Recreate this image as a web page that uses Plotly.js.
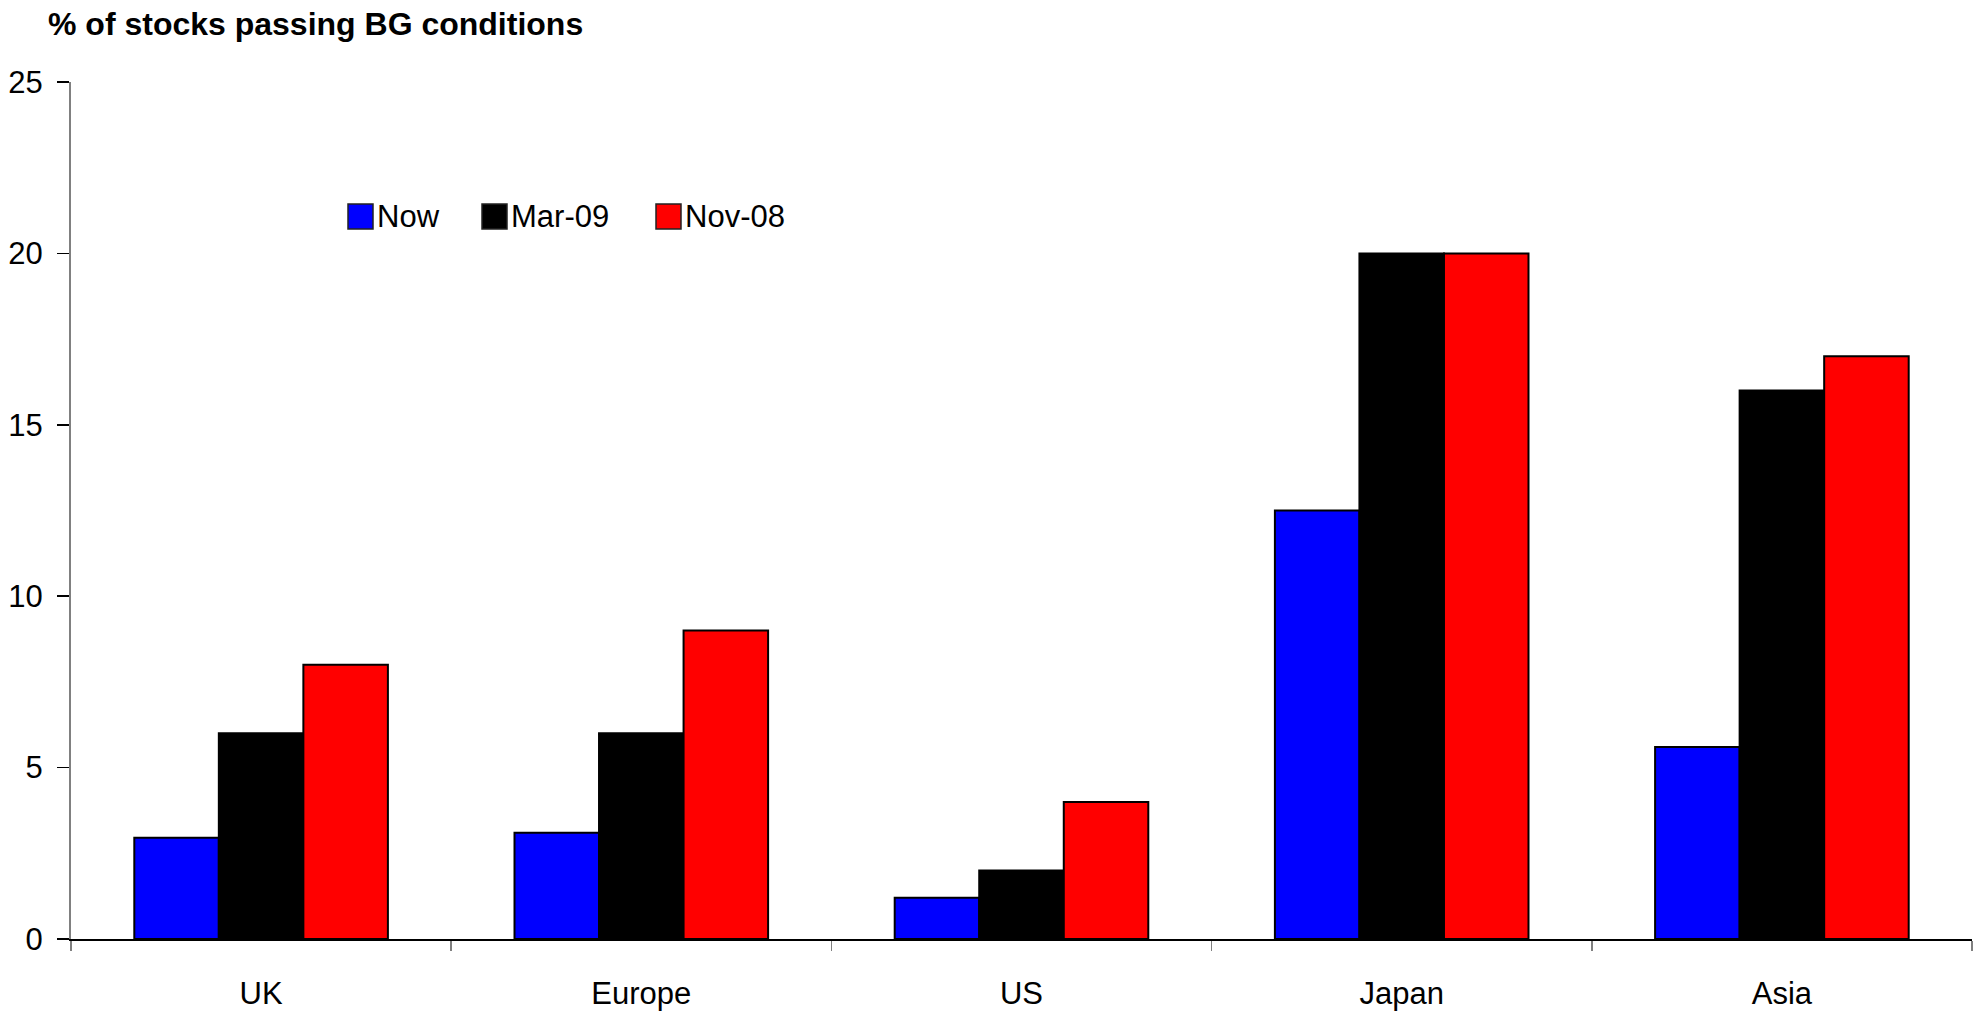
<!DOCTYPE html>
<html>
<head>
<meta charset="utf-8">
<script src="https://cdn.plot.ly/plotly-3.0.1.min.js"></script>
<style>
  html, body { margin: 0; padding: 0; background: #fff; }
  #chart { width: 1980px; height: 1011px; }
</style>
</head>
<body>
<div id="chart"></div>
<script>
// Share of stocks passing the BG screen, by region and date
const regions = ["UK", "Europe", "US", "Japan", "Asia"];
const seriesNames = ["Now", "Mar-09", "Nov-08"];
const nowValues = [2.95, 3.1, 1.2, 12.5, 5.6];
const mar09Values = [6, 6, 2, 20, 16];
const nov08Values = [8, 9, 4, 20, 17];
const seriesColors = ["#0000FF", "#000000", "#FF0000"];
const yTickValues = [0, 5, 10, 15, 20, 25];

const FONT = "Liberation Sans, Arial, Helvetica, sans-serif";
const W = 1980, H = 1011;
const M = { l: 71, r: 8, t: 82, b: 72 };
const plotW = W - M.l - M.r, plotH = H - M.t - M.b;

// pixel position on the page -> paper fraction
const px = x => (x - M.l) / plotW;
const py = y => (H - M.b - y) / plotH;

const allValues = [nowValues, mar09Values, nov08Values];
const traces = allValues.map((vals, i) => ({
  type: "bar",
  name: seriesNames[i],
  x: regions,
  y: vals,
  marker: { color: seriesColors[i], line: { color: "#000", width: 2 } },
  showlegend: false,
  hoverinfo: "x+y+name"
}));

// Legend drawn as squares and labels
const legendLefts = [348, 482, 656];
const legendTop = 204, legendSize = 25;
const shapes = [], annotations = [];
seriesNames.forEach((name, i) => {
  shapes.push({
    type: "rect", xref: "paper", yref: "paper",
    x0: px(legendLefts[i]), x1: px(legendLefts[i] + legendSize),
    y0: py(legendTop + legendSize), y1: py(legendTop),
    fillcolor: seriesColors[i],
    line: { color: "#222", width: 1.5 }
  });
  annotations.push({
    xref: "paper", yref: "paper",
    x: px(legendLefts[i] + legendSize + 2), y: py(legendTop + legendSize / 2),
    xanchor: "left", yanchor: "middle",
    text: name, showarrow: false,
    font: { family: FONT, size: 31, color: "#000" }
  });
});

const layout = {
  width: W, height: H,
  margin: M,
  paper_bgcolor: "#fff", plot_bgcolor: "#fff",
  font: { family: FONT, size: 31, color: "#000" },
  title: {
    text: "<b>% of stocks passing BG conditions</b>",
    xref: "container", yref: "container",
    x: 48 / W, xanchor: "left",
    y: 1 - 24 / H, yanchor: "middle",
    font: { family: FONT, size: 32, color: "#000" }
  },
  bargap: 0.333, bargroupgap: 0,
  barmode: "group",
  xaxis: {
    type: "category",
    tickson: "boundaries",
    ticks: "outside", ticklen: 10, tickwidth: 1.5, tickcolor: "#808080",
    showline: true, linecolor: "#000", linewidth: 1.5,
    showgrid: false, zeroline: false,
    ticklabelstandoff: 26,
    tickfont: { family: FONT, size: 31, color: "#000" }
  },
  yaxis: {
    range: [0, 25], tickvals: yTickValues,
    ticks: "outside", ticklen: 12, tickwidth: 1.5, tickcolor: "#000",
    showline: true, linecolor: "#808080", linewidth: 2,
    showgrid: false, zeroline: false,
    ticklabelstandoff: 8,
    tickfont: { family: FONT, size: 31, color: "#000" }
  },
  shapes: shapes,
  annotations: annotations
};

Plotly.newPlot("chart", traces, layout, { displayModeBar: false, staticPlot: true });
</script>
</body>
</html>
